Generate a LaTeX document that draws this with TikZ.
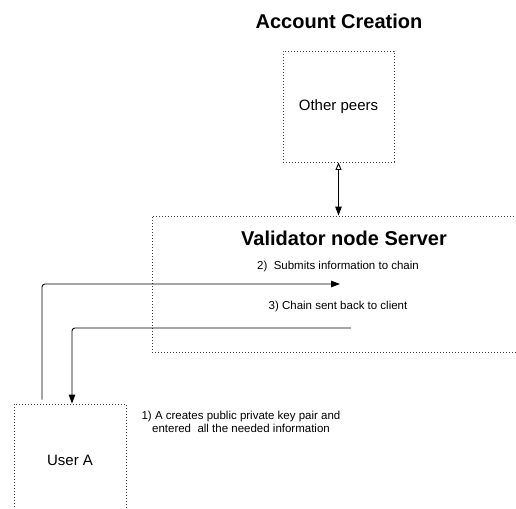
\documentclass[tikz,border=0pt]{standalone}
\usepackage{fontspec}
\setmainfont{Liberation Sans}
\usetikzlibrary{arrows.meta,positioning}

\begin{document}
\begin{tikzpicture}[
    x=1pt, y=-1pt,
    box/.style={
        draw=black!75,
        dash pattern=on 1pt off 2pt,
        line width=0.9pt,
        minimum width=111pt,
        minimum height=111pt,
        inner sep=0pt,
        align=center,
        font=\fontsize{15}{18}\selectfont
    },
    title/.style={
        font=\fontsize{20}{24}\selectfont\bfseries
    },
    note/.style={
        align=center,
        font=\fontsize{11.5}{13}\selectfont
    },
    arrow/.style={
        -{Triangle[length=9pt,width=6.5pt]},
        line width=0.9pt,
        rounded corners=3pt
    }
]
\useasboundingbox (0,0) rectangle (516,508);

% Top: other peers
\node[title] at (339,21)    (head)  {Account Creation};
\node[box]   at (338.5,106.5) (peers) {Other peers};

% Middle: server
\node[box, minimum width=380pt, minimum height=136pt] at (342,284) (server) {};
\node[title] at (344,238) (servtitle) {Validator node Server};
\node[note]  at (338,267) (step2) {2)\ \ Submits information to chain};
\node[note]  at (338,307) (step3) {3) Chain sent back to client};
\coordinate (subend)    at (340,284);
\coordinate (backstart) at (351,328);

% Bottom: user
\node[box, minimum width=112pt, minimum height=112pt] at (70,460) (usr) {User A};
\node[note]  at (241,422) (step1) {1) A creates public private key pair and\\entered\ \ all the needed information};

% Arrows
\draw[{Triangle[open,length=7.5pt,width=6pt]}-{Triangle[length=9pt,width=6.5pt]}, line width=0.9pt]
    (peers.south) -- (server.north -| peers.south);
\draw[arrow, shorten <=4pt] ([xshift=-28pt]usr.north) |- (subend);
\draw[arrow] (backstart) -| ([xshift=2pt]usr.north);

\end{tikzpicture}
\end{document}
